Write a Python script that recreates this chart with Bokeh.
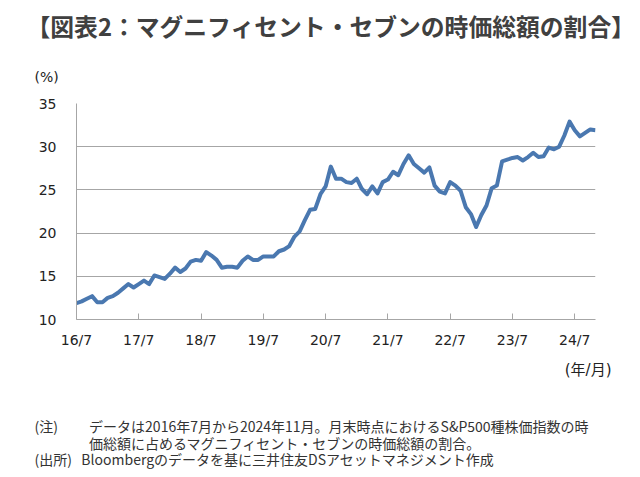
from bokeh.plotting import figure
from bokeh.models import FixedTicker, Title, Range1d, ColumnDataSource
from bokeh.embed import file_html
from bokeh.resources import INLINE

title_text = "【図表2：マグニフィセント・セブンの時価総額の割合】"
y_unit = "(%)"
x_unit = "(年/月)"
note_line1 = "(注)\u3000\u3000\u00a0データは2016年7月から2024年11月。月末時点におけるS&P500種株価指数の時"
note_line2 = "\u3000\u3000\u3000\u00a0\u00a0\u00a0\u00a0価総額に占めるマグニフィセント・セブンの時価総額の割合。"
src_line = "(出所)\u00a0\u00a0\u00a0Bloombergのデータを基に三井住友DSアセットマネジメント作成"

tick_labels = ["16/7", "17/7", "18/7", "19/7", "20/7", "21/7", "22/7", "23/7", "24/7"]
y_ticks = [10, 15, 20, 25, 30, 35]

# monthly share (%) 2016/7 .. 2024/11
share = [11.9, 12.1, 12.4, 12.7, 12.0, 12.0, 12.5, 12.7, 13.1, 13.6,
         14.1, 13.7, 14.1, 14.5, 14.1, 15.1, 14.9, 14.7, 15.3, 16.0,
         15.5, 15.9, 16.7, 16.9, 16.8, 17.8, 17.4, 16.9, 16.0, 16.1,
         16.1, 16.0, 16.8, 17.3, 16.9, 16.9, 17.3, 17.3, 17.3, 17.9,
         18.1, 18.5, 19.6, 20.2, 21.5, 22.7, 22.8, 24.5, 25.4, 27.7,
         26.3, 26.3, 25.9, 25.8, 26.3, 25.1, 24.5, 25.4, 24.6, 25.9,
         26.2, 27.1, 26.7, 28.0, 29.0, 28.0, 27.5, 27.0, 27.6, 25.5,
         24.8, 24.6, 25.9, 25.5, 24.9, 23.0, 22.2, 20.7, 22.1, 23.2,
         25.2, 25.5, 28.3, 28.5, 28.7, 28.8, 28.4, 28.8, 29.3, 28.8,
         28.9, 29.9, 29.7, 30.0, 31.3, 32.9, 31.9, 31.2, 31.6, 32.0,
         31.9]
months = list(range(len(share)))
tick_pos = [12 * k for k in range(len(tick_labels))]

FL, FR, FT, FB = 76, 595, 103, 319  # frame edges in canvas px

p = figure(width=640, height=477, output_backend="svg", toolbar_location=None,
           x_range=Range1d(0, len(share) - 1), y_range=Range1d(10, 35),
           min_border_left=FL, min_border_right=640 - FR,
           min_border_top=FT, min_border_bottom=477 - FB)
p.outline_line_color = None
p.background_fill_color = "white"
p.border_fill_color = "white"

src = ColumnDataSource(dict(x=months, y=share))
p.line("x", "y", source=src, line_color="#4a78b0", line_width=4, line_join="round")

grid_col = "#a6a6a6"
p.xgrid.visible = False
p.ygrid.ticker = FixedTicker(ticks=y_ticks)
p.ygrid.grid_line_color = grid_col
p.ygrid.grid_line_width = 1

tick_font = "DejaVu Sans"
xa = p.xaxis[0]
xa.ticker = FixedTicker(ticks=tick_pos)
xa.major_label_overrides = {t: l for t, l in zip(tick_pos, tick_labels)}
xa.axis_line_color = grid_col
xa.major_tick_line_color = grid_col
xa.major_tick_in = 6
xa.major_tick_out = 0
xa.minor_tick_line_color = None
xa.major_label_standoff = 12
xa.major_label_text_font = tick_font
xa.major_label_text_font_size = "14px"
xa.major_label_text_color = "#222222"

ya = p.yaxis[0]
ya.ticker = FixedTicker(ticks=y_ticks)
ya.axis_line_color = grid_col
ya.major_tick_line_color = None
ya.major_tick_in = 0
ya.major_tick_out = 0
ya.minor_tick_line_color = None
ya.major_label_standoff = 20
ya.major_label_text_font = tick_font
ya.major_label_text_font_size = "14px"
ya.major_label_text_color = "#222222"

jp = "Noto Sans CJK JP"
mixed = "'DejaVu Sans', 'Noto Sans CJK JP'"
txt = "#333333"

# above: nearest to frame first
p.add_layout(Title(text=y_unit, align="left", offset=34 - FL, standoff=38,
                   text_font=mixed, text_font_size="14px", text_color="#222222",
                   text_font_style="normal"), "above")
p.add_layout(Title(text=title_text, align="left", offset=26 - FL, standoff=10,
                   text_font=jp, text_font_size="23.8px", text_color="#404040",
                   text_font_style="bold"), "above")

# below: nearest to axis first
p.add_layout(Title(text=x_unit, align="right", offset=FR - 611, standoff=16,
                   text_font=mixed, text_font_size="15px", text_color="#222222",
                   text_font_style="normal"), "below")
notes = "\n".join(["", "", note_line1, note_line2, src_line])
p.add_layout(Title(text=notes, align="left", offset=34 - FL, standoff=-10,
                   text_font=jp, text_font_size="14px", text_color=txt,
                   text_line_height=0.83, text_font_style="normal"), "below")

open("out.html", "w").write(file_html(p, INLINE))
